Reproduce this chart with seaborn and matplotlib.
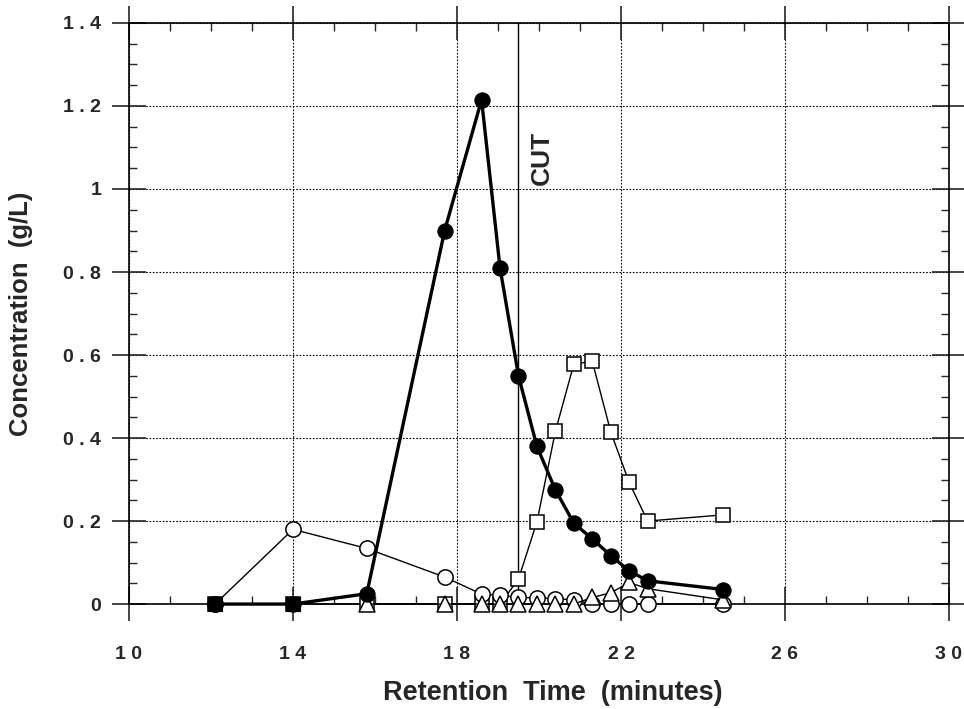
import matplotlib
matplotlib.use("Agg")
import matplotlib.pyplot as plt
import seaborn as sns
from matplotlib.ticker import MultipleLocator

# retention times (minutes)
times = [12.1, 14.0, 15.8, 17.7, 18.6, 19.05, 19.5, 19.95, 20.4, 20.85, 21.3, 21.75, 22.2, 22.65, 24.5]

# filled circles (main peak)
peak_main = [0.0, 0.0, 0.025, 0.90, 1.215, 0.81, 0.55, 0.38, 0.275, 0.195, 0.157, 0.117, 0.08, 0.056, 0.035]
# open circles
early_comp = [0.0, 0.18, 0.134, 0.065, 0.024, 0.021, 0.016, 0.015, 0.013, 0.01, 0.0, 0.0, 0.0, 0.0, 0.0]
# open squares
late_comp = [0.0, 0.0, 0.0, 0.0, 0.0, 0.0, 0.06, 0.198, 0.416, 0.578, 0.585, 0.415, 0.293, 0.2, 0.215]
# open triangles (start at 15.8)
tri_times = times[2:]
minor_comp = [0.0, 0.0, 0.0, 0.0, 0.0, 0.0, 0.0, 0.0, 0.016, 0.027, 0.052, 0.037, 0.01]

cut_time = 19.5

sns.set_style("ticks")
plt.rcParams["font.family"] = ["Liberation Sans", "DejaVu Sans"]
plt.rcParams["font.weight"] = "bold"

fig = plt.figure(figsize=(9.64, 7.09), dpi=100)
ax = fig.add_axes([0.1338, 0.148, 0.8506, 0.8196])

common = dict(estimator=None, color="black", legend=False, clip_on=False)

sns.lineplot(x=times, y=late_comp, marker="s", markersize=10, markerfacecolor="white",
             markeredgecolor="black", markeredgewidth=1.1, linewidth=1.0, zorder=3, ax=ax, **common)
sns.lineplot(x=times, y=early_comp, marker="o", markersize=11, markerfacecolor="white",
             markeredgecolor="black", markeredgewidth=1.1, linewidth=1.0, zorder=3, ax=ax, **common)
sns.lineplot(x=tri_times, y=minor_comp, marker="^", markersize=11, markerfacecolor="white",
             markeredgecolor="black", markeredgewidth=1.1, linewidth=1.0, zorder=4, ax=ax, **common)
sns.lineplot(x=times, y=peak_main, marker="o", markersize=11, markerfacecolor="black",
             markeredgecolor="black", linewidth=2.4, zorder=5, ax=ax, **common)
# the first two points overlap with the squares and print as filled squares
sns.scatterplot(x=times[:2], y=peak_main[:2], marker="s", s=110, color="black",
                edgecolor="black", zorder=6, ax=ax, legend=False, clip_on=False)

ax.axvline(cut_time, ymin=0, ymax=1, color="black", linewidth=1.0, zorder=2)
ax.text(cut_time + 0.57, 1.075, "CUT", rotation=90, ha="center", va="center",
        fontsize=19, fontweight="bold")

ax.set_xlim(10, 30)
ax.set_ylim(0, 1.4)
ax.xaxis.set_minor_locator(MultipleLocator(1))
ax.yaxis.set_minor_locator(MultipleLocator(0.05))

xt = [10, 14, 18, 22, 26, 30]
ax.set_xticks(xt)
ax.set_xticklabels([" ".join(str(v)) for v in xt], fontsize=14, fontweight="bold")
yt = [0, 0.2, 0.4, 0.6, 0.8, 1.0, 1.2, 1.4]
ylabels = ["0", "0 . 2", "0 . 4", "0 . 6", "0 . 8", "1", "1 . 2", "1 . 4"]
ax.set_yticks(yt)
ax.set_yticklabels(ylabels, fontsize=14, fontweight="bold")

ax.grid(True, which="major", color="black", linestyle=(0, (1.5, 1.5)), linewidth=0.8)
ax.tick_params(which="major", direction="inout", length=24, width=1.2,
               top=True, right=True, pad=8)
ax.tick_params(which="minor", direction="in", length=6, width=1.0, top=True, right=True)
ax.tick_params(axis="x", which="major", pad=18)

for sp in ax.spines.values():
    sp.set_linewidth(1.2)
    sp.set_color("black")

ax.set_xlabel("Retention  Time  (minutes)", fontsize=19.5, fontweight="bold", labelpad=11)
ax.xaxis.set_label_coords(0.517, -0.13)
ax.set_ylabel("Concentration  (g/L)", fontsize=18.5, fontweight="bold", labelpad=22)

fig.savefig("out.png", dpi=100)
